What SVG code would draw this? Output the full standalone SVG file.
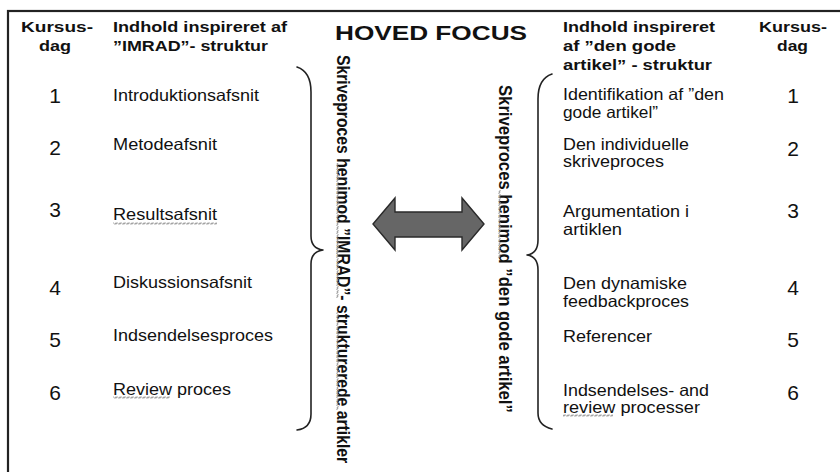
<svg xmlns="http://www.w3.org/2000/svg" width="840" height="472" viewBox="0 0 840 472">
  <style>
    .hd { font-family: "Liberation Sans", Arial, sans-serif; font-weight: bold; font-size: 15px; fill: #111; }
    .title { font-family: "Liberation Sans", Arial, sans-serif; font-weight: bold; font-size: 21px; fill: #111; }
    .num { font-family: "Liberation Sans", Arial, sans-serif; font-size: 21px; fill: #111; text-anchor: middle; }
    .item { font-family: "Liberation Sans", Arial, sans-serif; font-size: 16.5px; fill: #111; }
    .vert { font-family: "Liberation Sans", Arial, sans-serif; font-weight: bold; font-size: 17.5px; fill: #111; }
    .brace { fill: none; stroke: #222; stroke-width: 1.6; stroke-linecap: round; stroke-linejoin: round; }
    .frame { fill: none; stroke: #222; stroke-width: 2.2; }
  </style>
  <defs>
    <!-- spell-check style wavy underlines -->
    <pattern id="wavyH" width="4" height="3" patternUnits="userSpaceOnUse">
      <path d="M0,2.5 L1,0.5 L3,2.5 L4,0.5" fill="none" stroke="#9a9a9a" stroke-width="0.9"/>
    </pattern>
    <pattern id="wavyV" width="3" height="4" patternUnits="userSpaceOnUse">
      <path d="M2.5,0 L0.5,1 L2.5,3 L0.5,4" fill="none" stroke="#9a9a9a" stroke-width="0.9"/>
    </pattern>
  </defs>

  <rect width="840" height="472" fill="#fff"/>
  <rect class="frame" x="8" y="11" width="900" height="500"/>

  <g id="title">
    <text class="title" x="335" y="40" textLength="192" lengthAdjust="spacingAndGlyphs">HOVED FOCUS</text>
  </g>

  <g id="left-day-header">
    <text class="hd" x="21" y="32" textLength="72" lengthAdjust="spacingAndGlyphs">Kursus-</text>
    <text class="hd" x="39" y="51" textLength="32" lengthAdjust="spacingAndGlyphs">dag</text>
  </g>
  <g id="left-content-header">
    <text class="hd" x="113" y="32" textLength="174" lengthAdjust="spacingAndGlyphs">Indhold inspireret af</text>
    <text class="hd" x="113" y="51" textLength="155" lengthAdjust="spacingAndGlyphs">”IMRAD”- struktur</text>
  </g>
  <g id="right-content-header">
    <text class="hd" x="563" y="32" textLength="152" lengthAdjust="spacingAndGlyphs">Indhold inspireret</text>
    <text class="hd" x="563" y="51" textLength="113" lengthAdjust="spacingAndGlyphs">af ”den gode</text>
    <text class="hd" x="563" y="70" textLength="149" lengthAdjust="spacingAndGlyphs">artikel” - struktur</text>
  </g>
  <g id="right-day-header">
    <text class="hd" x="759" y="32" textLength="68" lengthAdjust="spacingAndGlyphs">Kursus-</text>
    <text class="hd" x="777" y="51" textLength="31" lengthAdjust="spacingAndGlyphs">dag</text>
  </g>

  <g id="left-days">
    <text class="num" x="55" y="103">1</text>
    <text class="num" x="55" y="155">2</text>
    <text class="num" x="55" y="217">3</text>
    <text class="num" x="55" y="295">4</text>
    <text class="num" x="55" y="347">5</text>
    <text class="num" x="55" y="400">6</text>
  </g>
  <g id="left-items">
    <text class="item" x="113" y="101" textLength="146" lengthAdjust="spacingAndGlyphs">Introduktionsafsnit</text>
    <text class="item" x="113" y="150" textLength="104" lengthAdjust="spacingAndGlyphs">Metodeafsnit</text>
    <text class="item" x="113" y="220" textLength="104" lengthAdjust="spacingAndGlyphs">Resultsafsnit</text>
    <text class="item" x="113" y="288" textLength="139" lengthAdjust="spacingAndGlyphs">Diskussionsafsnit</text>
    <text class="item" x="113" y="341" textLength="160" lengthAdjust="spacingAndGlyphs">Indsendelsesproces</text>
    <text class="item" x="113" y="395" textLength="118" lengthAdjust="spacingAndGlyphs">Review proces</text>
  </g>

  <g id="right-items">
    <text class="item" x="563" y="100" textLength="161" lengthAdjust="spacingAndGlyphs">Identifikation af ”den</text>
    <text class="item" x="563" y="118" textLength="95" lengthAdjust="spacingAndGlyphs">gode artikel”</text>
    <text class="item" x="563" y="150" textLength="126" lengthAdjust="spacingAndGlyphs">Den individuelle</text>
    <text class="item" x="563" y="167" textLength="101" lengthAdjust="spacingAndGlyphs">skriveproces</text>
    <text class="item" x="563" y="217" textLength="126" lengthAdjust="spacingAndGlyphs">Argumentation i</text>
    <text class="item" x="563" y="235" textLength="59" lengthAdjust="spacingAndGlyphs">artiklen</text>
    <text class="item" x="563" y="289" textLength="124" lengthAdjust="spacingAndGlyphs">Den dynamiske</text>
    <text class="item" x="563" y="307" textLength="126" lengthAdjust="spacingAndGlyphs">feedbackproces</text>
    <text class="item" x="563" y="342" textLength="89" lengthAdjust="spacingAndGlyphs">Referencer</text>
    <text class="item" x="563" y="396" textLength="146" lengthAdjust="spacingAndGlyphs">Indsendelses- and</text>
    <text class="item" x="563" y="413" textLength="137" lengthAdjust="spacingAndGlyphs">review processer</text>
  </g>
  <g id="right-days">
    <text class="num" x="793" y="103">1</text>
    <text class="num" x="793" y="156">2</text>
    <text class="num" x="793" y="218">3</text>
    <text class="num" x="793" y="295">4</text>
    <text class="num" x="793" y="347">5</text>
    <text class="num" x="793" y="400">6</text>
  </g>

  <g id="left-brace">
    <path class="brace" d="M297,67 C306,70 311,78 311,92 L311,236 C311,245 315,249 323,250 C315,251 311,255 311,264 L311,414 C311,424 305,429 297,430"/>
  </g>
  <g id="right-brace">
    <path class="brace" d="M552,74 C543,77 538,85 538,99 L538,240 C538,249 534,254 527,255 C534,256 538,261 538,270 L538,413 C538,422 544,427 552,429"/>
  </g>

  <!-- vertical labels, squeezed along their run direction -->
  <g id="left-vertical-label">
    <text class="vert" transform="translate(337,55) rotate(90) scale(0.9,1)">Skriveproces henimod ”IMRAD”- strukturerede artikler</text>
  </g>
  <g id="right-vertical-label">
    <text class="vert" transform="translate(499,85) rotate(90) scale(0.953,1)">Skriveproces henimod ”den gode artikel”</text>
  </g>

  <g id="spelling-marks">
    <rect x="113" y="222" width="104" height="3" fill="url(#wavyH)"/>
    <rect x="113" y="396" width="57" height="3" fill="url(#wavyH)"/>
    <rect x="563" y="414" width="50" height="3" fill="url(#wavyH)"/>
    <rect x="336" y="163" width="3" height="92" fill="url(#wavyV)"/>
    <rect x="336" y="246" width="3" height="52" fill="url(#wavyV)"/>
    <rect x="336" y="312" width="3" height="98" fill="url(#wavyV)"/>
    <rect x="498" y="190" width="3" height="68" fill="url(#wavyV)"/>
  </g>

  <g id="connectors">
    <path d="M373,224 L395,198 L395,212 L462,212 L462,198 L484,224 L462,250 L462,237 L395,237 L395,250 Z" fill="#666" stroke="#2a2a2a" stroke-width="1.4" stroke-linejoin="miter"/>
  </g>
</svg>
